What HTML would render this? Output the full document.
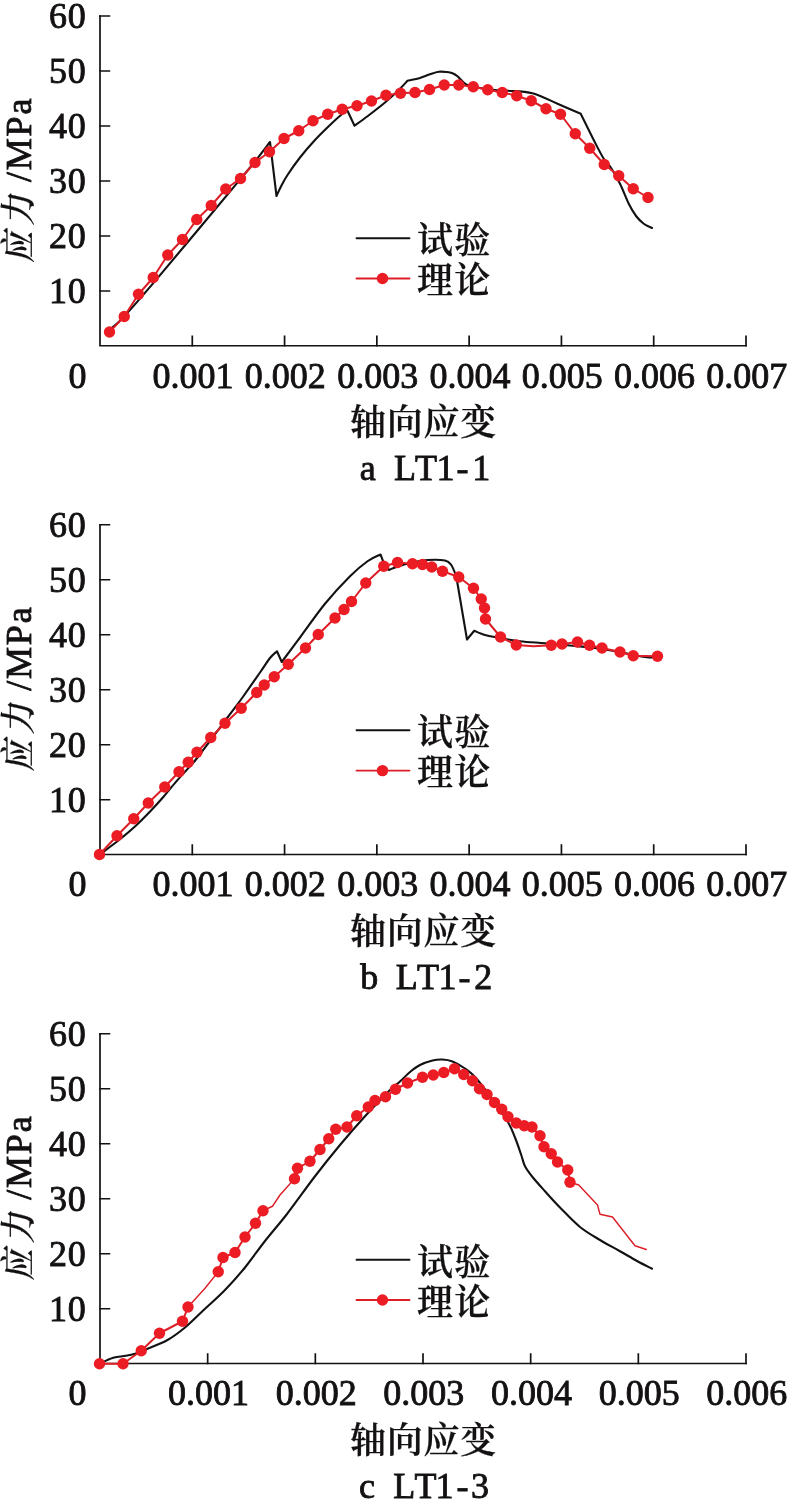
<!DOCTYPE html>
<html lang="zh-CN">
<head>
<meta charset="utf-8">
<title>应力-轴向应变曲线</title>
<style>
html,body{margin:0;padding:0;background:#fff;}
body{width:788px;height:1500px;overflow:hidden;}
svg{display:block;}
text{font-family:"Liberation Serif","Noto Serif CJK SC",serif;font-size:36px;fill:#141112;stroke:#141112;stroke-width:0.85px;}
.cjk{font-family:"Noto Serif CJK SC","Liberation Serif",serif;font-weight:600;stroke-width:0.25px;}
.ax{stroke:#141112;stroke-width:1.7;fill:none;stroke-linecap:square;}
.bl{stroke:#141112;stroke-width:2.1;fill:none;stroke-linejoin:round;stroke-linecap:round;}
.rl{stroke:#dc1e27;stroke-width:2.0;fill:none;stroke-linejoin:round;stroke-linecap:round;}
.mk{fill:#ec1c24;}
</style>
</head>
<body>
<svg width="788" height="1500" viewBox="0 0 788 1500">
<rect x="0" y="0" width="788" height="1500" fill="#ffffff"/>

<g>
<path class="ax" d="M100.00 16.00 V345.75 H746.00"/>
<path class="ax" d="M100.00 291.00 h9.4 M100.00 236.00 h9.4 M100.00 181.00 h9.4 M100.00 126.00 h9.4 M100.00 71.00 h9.4 M100.00 16.00 h9.4 M192.29 345.75 v-9.4 M284.57 345.75 v-9.4 M376.86 345.75 v-9.4 M469.14 345.75 v-9.4 M561.43 345.75 v-9.4 M653.71 345.75 v-9.4 M746.00 345.75 v-9.4"/>
<text x="86.4" y="303.30" text-anchor="end" letter-spacing="0.7">10</text>
<text x="86.4" y="248.30" text-anchor="end" letter-spacing="0.7">20</text>
<text x="86.4" y="193.30" text-anchor="end" letter-spacing="0.7">30</text>
<text x="86.4" y="138.30" text-anchor="end" letter-spacing="0.7">40</text>
<text x="86.4" y="83.30" text-anchor="end" letter-spacing="0.7">50</text>
<text x="86.4" y="28.30" text-anchor="end" letter-spacing="0.7">60</text>
<text x="86.5" y="387.65" text-anchor="end">0</text>
<text x="193.09" y="387.65" text-anchor="middle">0.001</text>
<text x="285.37" y="387.65" text-anchor="middle">0.002</text>
<text x="377.66" y="387.65" text-anchor="middle">0.003</text>
<text x="469.94" y="387.65" text-anchor="middle">0.004</text>
<text x="562.23" y="387.65" text-anchor="middle">0.005</text>
<text x="654.51" y="387.65" text-anchor="middle">0.006</text>
<text x="746.80" y="387.65" text-anchor="middle">0.007</text>
<text class="cjk" x="423.5" y="435.25" text-anchor="middle" letter-spacing="0.8">轴向应变</text>
<text x="359.70 377.00 394.05 415.10 436.60 456.40 472.35" y="480.05">a LT1-1</text>
<text class="cjk" transform="translate(31.1 262.50) rotate(-90) skewX(-10) scale(0.87 1)" letter-spacing="6.5">应力</text>
<text transform="translate(31.1 182.00) rotate(-90)" letter-spacing="1.8">/MPa</text>
<path class="bl" stroke-linejoin="miter" d="M108.60 330.70 C111.20 328.32 115.80 325.45 124.20 316.40 C132.60 307.35 140.30 298.50 159.00 276.40 C177.70 254.30 220.40 202.95 236.40 183.80 C252.40 164.65 249.40 168.47 255.00 161.50 C260.60 154.53 267.50 145.25 270.00 142.00 L276.50 196.00 C277.25 194.42 279.17 190.00 281.00 186.50 C282.83 183.00 284.33 179.83 287.50 175.00 C290.67 170.17 295.42 163.33 300.00 157.50 C304.58 151.67 310.00 145.42 315.00 140.00 C320.00 134.58 325.42 129.38 330.00 125.00 C334.58 120.62 339.58 116.12 342.50 113.75 C345.42 111.38 346.67 111.25 347.50 110.75 L354.50 125.75 C356.67 124.17 362.42 120.12 367.50 116.25 C372.58 112.38 379.58 107.08 385.00 102.50 C390.42 97.92 396.25 92.38 400.00 88.75 C403.75 85.12 406.25 82.08 407.50 80.75 C409.58 80.29 416.25 79.08 420.00 78.00 C423.75 76.92 426.88 75.29 430.00 74.25 C433.12 73.21 435.92 72.12 438.75 71.75 C441.58 71.38 444.71 71.76 447.00 72.00 C449.29 72.24 450.75 72.49 452.50 73.20 C454.25 73.91 455.21 74.37 457.50 76.25 C459.79 78.13 462.50 82.54 466.25 84.50 C470.00 86.46 475.21 87.08 480.00 88.00 C484.79 88.92 490.42 89.54 495.00 90.00 C499.58 90.46 501.25 90.21 507.50 90.75 C513.75 91.29 524.17 91.08 532.50 93.25 C540.83 95.42 549.46 100.33 557.50 103.75 C565.54 107.17 576.88 112.08 580.75 113.75 C583.12 118.54 591.17 135.00 595.00 142.50 C598.83 150.00 601.25 154.79 603.75 158.75 C606.25 162.71 607.29 162.08 610.00 166.25 C612.71 170.42 616.88 177.50 620.00 183.75 C623.12 190.00 626.04 198.33 628.75 203.75 C631.46 209.17 633.75 212.92 636.25 216.25 C638.75 219.58 641.12 221.79 643.75 223.75 C646.38 225.71 650.62 227.29 652.00 228.00"/>
<polyline class="rl" points="109.50,332.00 124.25,316.50 138.50,294.25 153.25,277.50 167.75,255.00 182.50,239.50 196.75,219.50 211.25,205.50 225.75,189.00 240.50,178.50 255.00,162.50 269.50,151.75 284.00,138.50 298.75,130.75 313.00,120.75 327.75,114.25 342.25,109.25 357.00,105.75 371.50,101.00 386.00,95.25 400.50,93.25 415.00,92.50 429.50,89.50 444.25,85.00 458.75,85.00 473.25,86.75 487.75,89.75 502.25,92.50 516.75,95.75 531.25,100.75 546.00,108.75 560.50,114.25 575.25,133.75 589.75,148.25 604.25,164.50 618.75,175.75 633.25,188.75 648.00,197.50"/>
<circle class="mk" cx="109.50" cy="332.00" r="5.7"/>
<circle class="mk" cx="124.25" cy="316.50" r="5.7"/>
<circle class="mk" cx="138.50" cy="294.25" r="5.7"/>
<circle class="mk" cx="153.25" cy="277.50" r="5.7"/>
<circle class="mk" cx="167.75" cy="255.00" r="5.7"/>
<circle class="mk" cx="182.50" cy="239.50" r="5.7"/>
<circle class="mk" cx="196.75" cy="219.50" r="5.7"/>
<circle class="mk" cx="211.25" cy="205.50" r="5.7"/>
<circle class="mk" cx="225.75" cy="189.00" r="5.7"/>
<circle class="mk" cx="240.50" cy="178.50" r="5.7"/>
<circle class="mk" cx="255.00" cy="162.50" r="5.7"/>
<circle class="mk" cx="269.50" cy="151.75" r="5.7"/>
<circle class="mk" cx="284.00" cy="138.50" r="5.7"/>
<circle class="mk" cx="298.75" cy="130.75" r="5.7"/>
<circle class="mk" cx="313.00" cy="120.75" r="5.7"/>
<circle class="mk" cx="327.75" cy="114.25" r="5.7"/>
<circle class="mk" cx="342.25" cy="109.25" r="5.7"/>
<circle class="mk" cx="357.00" cy="105.75" r="5.7"/>
<circle class="mk" cx="371.50" cy="101.00" r="5.7"/>
<circle class="mk" cx="386.00" cy="95.25" r="5.7"/>
<circle class="mk" cx="400.50" cy="93.25" r="5.7"/>
<circle class="mk" cx="415.00" cy="92.50" r="5.7"/>
<circle class="mk" cx="429.50" cy="89.50" r="5.7"/>
<circle class="mk" cx="444.25" cy="85.00" r="5.7"/>
<circle class="mk" cx="458.75" cy="85.00" r="5.7"/>
<circle class="mk" cx="473.25" cy="86.75" r="5.7"/>
<circle class="mk" cx="487.75" cy="89.75" r="5.7"/>
<circle class="mk" cx="502.25" cy="92.50" r="5.7"/>
<circle class="mk" cx="516.75" cy="95.75" r="5.7"/>
<circle class="mk" cx="531.25" cy="100.75" r="5.7"/>
<circle class="mk" cx="546.00" cy="108.75" r="5.7"/>
<circle class="mk" cx="560.50" cy="114.25" r="5.7"/>
<circle class="mk" cx="575.25" cy="133.75" r="5.7"/>
<circle class="mk" cx="589.75" cy="148.25" r="5.7"/>
<circle class="mk" cx="604.25" cy="164.50" r="5.7"/>
<circle class="mk" cx="618.75" cy="175.75" r="5.7"/>
<circle class="mk" cx="633.25" cy="188.75" r="5.7"/>
<circle class="mk" cx="648.00" cy="197.50" r="5.7"/>
<path class="bl" style="stroke-width:1.9" d="M356.5 238.20 H409.5"/>
<path class="rl" style="stroke-width:1.9" d="M356.5 278.50 H409.5"/>
<circle class="mk" cx="382.5" cy="278.50" r="5.7"/>
<text class="cjk" x="417" y="253.00" letter-spacing="1.2">试验</text>
<text class="cjk" x="417" y="293.00" letter-spacing="1.2">理论</text>
</g>
<g>
<path class="ax" d="M100.00 524.75 V854.50 H746.00"/>
<path class="ax" d="M100.00 799.75 h9.4 M100.00 744.75 h9.4 M100.00 689.75 h9.4 M100.00 634.75 h9.4 M100.00 579.75 h9.4 M100.00 524.75 h9.4 M192.29 854.50 v-9.4 M284.57 854.50 v-9.4 M376.86 854.50 v-9.4 M469.14 854.50 v-9.4 M561.43 854.50 v-9.4 M653.71 854.50 v-9.4 M746.00 854.50 v-9.4"/>
<text x="86.4" y="812.05" text-anchor="end" letter-spacing="0.7">10</text>
<text x="86.4" y="757.05" text-anchor="end" letter-spacing="0.7">20</text>
<text x="86.4" y="702.05" text-anchor="end" letter-spacing="0.7">30</text>
<text x="86.4" y="647.05" text-anchor="end" letter-spacing="0.7">40</text>
<text x="86.4" y="592.05" text-anchor="end" letter-spacing="0.7">50</text>
<text x="86.4" y="537.05" text-anchor="end" letter-spacing="0.7">60</text>
<text x="86.5" y="896.40" text-anchor="end">0</text>
<text x="193.09" y="896.40" text-anchor="middle">0.001</text>
<text x="285.37" y="896.40" text-anchor="middle">0.002</text>
<text x="377.66" y="896.40" text-anchor="middle">0.003</text>
<text x="469.94" y="896.40" text-anchor="middle">0.004</text>
<text x="562.23" y="896.40" text-anchor="middle">0.005</text>
<text x="654.51" y="896.40" text-anchor="middle">0.006</text>
<text x="746.80" y="896.40" text-anchor="middle">0.007</text>
<text class="cjk" x="423.5" y="944.00" text-anchor="middle" letter-spacing="0.8">轴向应变</text>
<text x="360.30 378.00 395.85 416.90 438.40 458.40 474.20" y="988.80">b LT1-2</text>
<text class="cjk" transform="translate(31.1 771.25) rotate(-90) skewX(-10) scale(0.87 1)" letter-spacing="6.5">应力</text>
<text transform="translate(31.1 690.75) rotate(-90)" letter-spacing="1.8">/MPa</text>
<path class="bl" stroke-linejoin="miter" d="M99.50 854.50 C100.22 853.98 100.55 853.82 103.80 851.40 C107.05 848.98 113.72 844.23 119.00 840.00 C124.28 835.77 130.20 830.87 135.50 826.00 C140.80 821.13 146.13 815.67 150.80 810.80 C155.47 805.93 159.28 801.67 163.50 796.80 C167.72 791.93 171.88 786.47 176.10 781.60 C180.32 776.73 185.23 771.62 188.80 767.60 C192.37 763.58 191.05 765.85 197.50 757.50 C203.95 749.15 220.00 727.50 227.50 717.50 C235.00 707.50 237.08 705.00 242.50 697.50 C247.92 690.00 255.42 679.08 260.00 672.50 C264.58 665.92 267.17 661.54 270.00 658.00 C272.83 654.46 275.83 652.38 277.00 651.25 L281.75 662.00 C284.79 657.92 292.79 647.21 300.00 637.50 C307.21 627.79 316.67 613.96 325.00 603.75 C333.33 593.54 342.92 583.33 350.00 576.25 C357.08 569.17 362.42 564.88 367.50 561.25 C372.58 557.62 378.33 555.62 380.50 554.50 C381.08 555.92 382.62 560.42 384.00 563.00 C385.38 565.58 387.96 568.83 388.75 570.00 C389.58 569.67 390.21 569.17 393.75 568.00 C397.29 566.83 404.38 564.33 410.00 563.00 C415.62 561.67 421.67 560.42 427.50 560.00 C433.33 559.58 441.04 559.67 445.00 560.50 C448.96 561.33 449.38 562.38 451.25 565.00 C453.12 567.62 455.42 574.38 456.25 576.25 L467.00 639.50 L474.25 630.75 C476.04 631.46 481.21 633.88 485.00 635.00 C488.79 636.12 491.17 636.46 497.00 637.50 C502.83 638.54 512.00 640.29 520.00 641.25 C528.00 642.21 536.67 642.54 545.00 643.25 C553.33 643.96 561.67 644.71 570.00 645.50 C578.33 646.29 586.67 646.92 595.00 648.00 C603.33 649.08 611.67 650.50 620.00 652.00 C628.33 653.50 638.75 656.08 645.00 657.00 C651.25 657.92 655.42 657.42 657.50 657.50"/>
<polyline class="rl" points="99.50,854.50 117.00,835.75 133.75,818.75 148.25,803.00 164.75,787.00 179.00,771.75 188.25,762.25 197.00,752.25 210.75,737.50 225.00,723.25 241.25,708.25 256.75,692.50 264.25,685.00 274.25,676.75 288.25,664.25 305.50,648.00 318.25,634.50 335.00,618.00 344.00,609.50 351.50,601.50 365.75,583.00 383.75,566.25 397.50,562.50 412.50,563.75 422.50,564.50 431.75,567.00 442.50,571.25 458.75,577.00 473.50,588.25 481.25,599.00 484.50,608.00 485.50,619.00 500.50,637.00 516.25,645.00 533.50,646.30 551.25,645.25 562.00,644.00 577.50,642.00 589.50,645.25 602.00,648.00 620.00,652.00 633.25,655.75 657.50,656.25"/>
<circle class="mk" cx="99.50" cy="854.50" r="5.7"/>
<circle class="mk" cx="117.00" cy="835.75" r="5.7"/>
<circle class="mk" cx="133.75" cy="818.75" r="5.7"/>
<circle class="mk" cx="148.25" cy="803.00" r="5.7"/>
<circle class="mk" cx="164.75" cy="787.00" r="5.7"/>
<circle class="mk" cx="179.00" cy="771.75" r="5.7"/>
<circle class="mk" cx="188.25" cy="762.25" r="5.7"/>
<circle class="mk" cx="197.00" cy="752.25" r="5.7"/>
<circle class="mk" cx="210.75" cy="737.50" r="5.7"/>
<circle class="mk" cx="225.00" cy="723.25" r="5.7"/>
<circle class="mk" cx="241.25" cy="708.25" r="5.7"/>
<circle class="mk" cx="256.75" cy="692.50" r="5.7"/>
<circle class="mk" cx="264.25" cy="685.00" r="5.7"/>
<circle class="mk" cx="274.25" cy="676.75" r="5.7"/>
<circle class="mk" cx="288.25" cy="664.25" r="5.7"/>
<circle class="mk" cx="305.50" cy="648.00" r="5.7"/>
<circle class="mk" cx="318.25" cy="634.50" r="5.7"/>
<circle class="mk" cx="335.00" cy="618.00" r="5.7"/>
<circle class="mk" cx="344.00" cy="609.50" r="5.7"/>
<circle class="mk" cx="351.50" cy="601.50" r="5.7"/>
<circle class="mk" cx="365.75" cy="583.00" r="5.7"/>
<circle class="mk" cx="383.75" cy="566.25" r="5.7"/>
<circle class="mk" cx="397.50" cy="562.50" r="5.7"/>
<circle class="mk" cx="412.50" cy="563.75" r="5.7"/>
<circle class="mk" cx="422.50" cy="564.50" r="5.7"/>
<circle class="mk" cx="431.75" cy="567.00" r="5.7"/>
<circle class="mk" cx="442.50" cy="571.25" r="5.7"/>
<circle class="mk" cx="458.75" cy="577.00" r="5.7"/>
<circle class="mk" cx="473.50" cy="588.25" r="5.7"/>
<circle class="mk" cx="481.25" cy="599.00" r="5.7"/>
<circle class="mk" cx="484.50" cy="608.00" r="5.7"/>
<circle class="mk" cx="485.50" cy="619.00" r="5.7"/>
<circle class="mk" cx="500.50" cy="637.00" r="5.7"/>
<circle class="mk" cx="516.25" cy="645.00" r="5.7"/>
<circle class="mk" cx="551.25" cy="645.25" r="5.7"/>
<circle class="mk" cx="562.00" cy="644.00" r="5.7"/>
<circle class="mk" cx="577.50" cy="642.00" r="5.7"/>
<circle class="mk" cx="589.50" cy="645.25" r="5.7"/>
<circle class="mk" cx="602.00" cy="648.00" r="5.7"/>
<circle class="mk" cx="620.00" cy="652.00" r="5.7"/>
<circle class="mk" cx="633.25" cy="655.75" r="5.7"/>
<circle class="mk" cx="657.50" cy="656.25" r="5.7"/>
<path class="bl" style="stroke-width:1.9" d="M356.5 730.30 H409.5"/>
<path class="rl" style="stroke-width:1.9" d="M356.5 770.60 H409.5"/>
<circle class="mk" cx="382.5" cy="770.60" r="5.7"/>
<text class="cjk" x="417" y="745.10" letter-spacing="1.2">试验</text>
<text class="cjk" x="417" y="785.10" letter-spacing="1.2">理论</text>
</g>
<g>
<path class="ax" d="M100.00 1033.75 V1363.50 H746.00"/>
<path class="ax" d="M100.00 1308.75 h9.4 M100.00 1253.75 h9.4 M100.00 1198.75 h9.4 M100.00 1143.75 h9.4 M100.00 1088.75 h9.4 M100.00 1033.75 h9.4 M207.67 1363.50 v-9.4 M315.33 1363.50 v-9.4 M423.00 1363.50 v-9.4 M530.67 1363.50 v-9.4 M638.33 1363.50 v-9.4 M746.00 1363.50 v-9.4"/>
<text x="86.4" y="1321.05" text-anchor="end" letter-spacing="0.7">10</text>
<text x="86.4" y="1266.05" text-anchor="end" letter-spacing="0.7">20</text>
<text x="86.4" y="1211.05" text-anchor="end" letter-spacing="0.7">30</text>
<text x="86.4" y="1156.05" text-anchor="end" letter-spacing="0.7">40</text>
<text x="86.4" y="1101.05" text-anchor="end" letter-spacing="0.7">50</text>
<text x="86.4" y="1046.05" text-anchor="end" letter-spacing="0.7">60</text>
<text x="86.5" y="1405.40" text-anchor="end">0</text>
<text x="208.47" y="1405.40" text-anchor="middle">0.001</text>
<text x="316.13" y="1405.40" text-anchor="middle">0.002</text>
<text x="423.80" y="1405.40" text-anchor="middle">0.003</text>
<text x="531.47" y="1405.40" text-anchor="middle">0.004</text>
<text x="639.13" y="1405.40" text-anchor="middle">0.005</text>
<text x="746.80" y="1405.40" text-anchor="middle">0.006</text>
<text class="cjk" x="423.5" y="1453.00" text-anchor="middle" letter-spacing="0.8">轴向应变</text>
<text x="359.10 376.00 393.15 414.60 435.60 456.40 470.95" y="1497.80">c LT1-3</text>
<text class="cjk" transform="translate(31.1 1280.25) rotate(-90) skewX(-10) scale(0.87 1)" letter-spacing="6.5">应力</text>
<text transform="translate(31.1 1199.75) rotate(-90)" letter-spacing="1.8">/MPa</text>
<path class="bl" stroke-linejoin="miter" d="M99.50 1363.75 C101.67 1362.79 108.67 1359.25 112.50 1358.00 C116.33 1356.75 118.75 1356.96 122.50 1356.25 C126.25 1355.54 130.83 1355.00 135.00 1353.75 C139.17 1352.50 142.08 1351.04 147.50 1348.75 C152.92 1346.46 161.25 1343.54 167.50 1340.00 C173.75 1336.46 178.75 1332.71 185.00 1327.50 C191.25 1322.29 198.33 1315.00 205.00 1308.75 C211.67 1302.50 218.33 1296.88 225.00 1290.00 C231.67 1283.12 238.33 1275.67 245.00 1267.50 C251.67 1259.33 258.00 1249.92 265.00 1241.00 C272.00 1232.08 278.67 1224.79 287.00 1214.00 C295.33 1203.21 306.17 1187.75 315.00 1176.25 C323.83 1164.75 331.67 1155.00 340.00 1145.00 C348.33 1135.00 356.67 1125.42 365.00 1116.25 C373.33 1107.08 384.17 1095.79 390.00 1090.00 C395.83 1084.21 396.67 1084.50 400.00 1081.50 C403.33 1078.50 406.67 1074.75 410.00 1072.00 C413.33 1069.25 416.25 1066.92 420.00 1065.00 C423.75 1063.08 428.75 1061.42 432.50 1060.50 C436.25 1059.58 439.17 1059.33 442.50 1059.50 C445.83 1059.67 448.75 1060.00 452.50 1061.50 C456.25 1063.00 461.25 1065.92 465.00 1068.50 C468.75 1071.08 470.83 1072.42 475.00 1077.00 C479.17 1081.58 484.58 1088.62 490.00 1096.00 C495.42 1103.38 503.33 1114.33 507.50 1121.25 C511.67 1128.17 512.71 1131.88 515.00 1137.50 C517.29 1143.12 519.58 1150.21 521.25 1155.00 C522.92 1159.79 523.12 1162.58 525.00 1166.25 C526.88 1169.92 529.17 1172.83 532.50 1177.00 C535.83 1181.17 540.42 1186.17 545.00 1191.25 C549.58 1196.33 554.17 1201.54 560.00 1207.50 C565.83 1213.46 573.33 1221.58 580.00 1227.00 C586.67 1232.42 593.33 1235.96 600.00 1240.00 C606.67 1244.04 613.75 1247.71 620.00 1251.25 C626.25 1254.79 632.17 1258.33 637.50 1261.25 C642.83 1264.17 649.58 1267.50 652.00 1268.75"/>
<polyline class="rl" points="99.50,1363.75 123.00,1363.75 141.25,1350.75 159.50,1333.25 182.50,1321.25 188.00,1307.00"/>
<polyline class="rl" style="stroke-width:1.4" points="188.00,1307.00 205.00,1288.30 218.25,1271.75"/>
<polyline class="rl" points="218.25,1271.75 223.00,1257.50 235.00,1252.50 245.00,1237.00 255.50,1223.25 263.00,1210.75"/>
<polyline class="rl" style="stroke-width:1.4" points="263.00,1210.75 272.50,1206.25 280.00,1195.00 294.50,1178.75"/>
<polyline class="rl" points="294.50,1178.75 297.50,1168.25 310.00,1161.25 320.00,1149.50 328.75,1138.75 335.75,1129.25 347.00,1127.00 356.75,1115.75 368.25,1107.00 375.00,1100.50 385.50,1096.75 395.50,1089.25 407.50,1083.00 422.50,1077.25 433.25,1075.00 443.75,1072.50 454.50,1068.75 463.75,1074.50 472.50,1080.75 479.50,1088.75 487.00,1094.50 494.50,1102.50 501.75,1109.25 508.00,1116.75 516.25,1123.00 524.25,1125.75 532.00,1127.00 540.00,1135.75 544.00,1146.75 551.25,1153.75 557.50,1162.00 567.75,1170.00 570.00,1182.25"/>
<polyline class="rl" style="stroke-width:1.4" points="570.00,1182.25 578.75,1185.00 597.50,1205.00 600.00,1214.25 612.50,1217.00 635.00,1245.75 646.25,1249.50"/>
<circle class="mk" cx="99.50" cy="1363.75" r="5.7"/>
<circle class="mk" cx="123.00" cy="1363.75" r="5.7"/>
<circle class="mk" cx="141.25" cy="1350.75" r="5.7"/>
<circle class="mk" cx="159.50" cy="1333.25" r="5.7"/>
<circle class="mk" cx="182.50" cy="1321.25" r="5.7"/>
<circle class="mk" cx="188.00" cy="1307.00" r="5.7"/>
<circle class="mk" cx="218.25" cy="1271.75" r="5.7"/>
<circle class="mk" cx="223.00" cy="1257.50" r="5.7"/>
<circle class="mk" cx="235.00" cy="1252.50" r="5.7"/>
<circle class="mk" cx="245.00" cy="1237.00" r="5.7"/>
<circle class="mk" cx="255.50" cy="1223.25" r="5.7"/>
<circle class="mk" cx="263.00" cy="1210.75" r="5.7"/>
<circle class="mk" cx="294.50" cy="1178.75" r="5.7"/>
<circle class="mk" cx="297.50" cy="1168.25" r="5.7"/>
<circle class="mk" cx="310.00" cy="1161.25" r="5.7"/>
<circle class="mk" cx="320.00" cy="1149.50" r="5.7"/>
<circle class="mk" cx="328.75" cy="1138.75" r="5.7"/>
<circle class="mk" cx="335.75" cy="1129.25" r="5.7"/>
<circle class="mk" cx="347.00" cy="1127.00" r="5.7"/>
<circle class="mk" cx="356.75" cy="1115.75" r="5.7"/>
<circle class="mk" cx="368.25" cy="1107.00" r="5.7"/>
<circle class="mk" cx="375.00" cy="1100.50" r="5.7"/>
<circle class="mk" cx="385.50" cy="1096.75" r="5.7"/>
<circle class="mk" cx="395.50" cy="1089.25" r="5.7"/>
<circle class="mk" cx="407.50" cy="1083.00" r="5.7"/>
<circle class="mk" cx="422.50" cy="1077.25" r="5.7"/>
<circle class="mk" cx="433.25" cy="1075.00" r="5.7"/>
<circle class="mk" cx="443.75" cy="1072.50" r="5.7"/>
<circle class="mk" cx="454.50" cy="1068.75" r="5.7"/>
<circle class="mk" cx="463.75" cy="1074.50" r="5.7"/>
<circle class="mk" cx="472.50" cy="1080.75" r="5.7"/>
<circle class="mk" cx="479.50" cy="1088.75" r="5.7"/>
<circle class="mk" cx="487.00" cy="1094.50" r="5.7"/>
<circle class="mk" cx="494.50" cy="1102.50" r="5.7"/>
<circle class="mk" cx="501.75" cy="1109.25" r="5.7"/>
<circle class="mk" cx="508.00" cy="1116.75" r="5.7"/>
<circle class="mk" cx="516.25" cy="1123.00" r="5.7"/>
<circle class="mk" cx="524.25" cy="1125.75" r="5.7"/>
<circle class="mk" cx="532.00" cy="1127.00" r="5.7"/>
<circle class="mk" cx="540.00" cy="1135.75" r="5.7"/>
<circle class="mk" cx="544.00" cy="1146.75" r="5.7"/>
<circle class="mk" cx="551.25" cy="1153.75" r="5.7"/>
<circle class="mk" cx="557.50" cy="1162.00" r="5.7"/>
<circle class="mk" cx="567.75" cy="1170.00" r="5.7"/>
<circle class="mk" cx="570.00" cy="1182.25" r="5.7"/>
<path class="bl" style="stroke-width:1.9" d="M356.5 1259.70 H409.5"/>
<path class="rl" style="stroke-width:1.9" d="M356.5 1300.00 H409.5"/>
<circle class="mk" cx="382.5" cy="1300.00" r="5.7"/>
<text class="cjk" x="417" y="1274.50" letter-spacing="1.2">试验</text>
<text class="cjk" x="417" y="1314.50" letter-spacing="1.2">理论</text>
</g>
</svg>
</body>
</html>
